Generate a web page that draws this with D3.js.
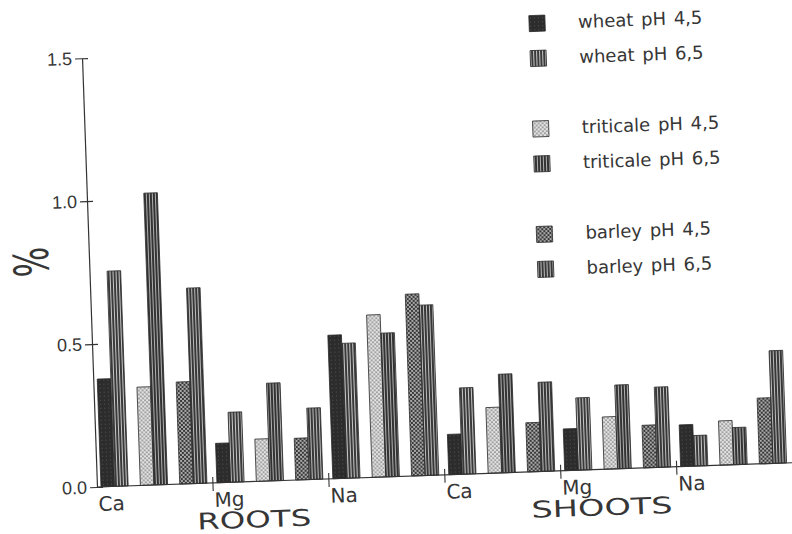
<!DOCTYPE html>
<html lang="en">
<head>
<meta charset="utf-8">
<title>ROOTS / SHOOTS</title>
<script src="https://d3js.org/d3.v7.min.js"></script>
<style>
  body { margin: 0; background: #fff; }
  text { font-family: "DejaVu Sans", sans-serif; fill: #363636; }
</style>
</head>
<body>
<svg id="chart"></svg>
<script>
// slots: ROOTS Ca, Mg, Na, then SHOOTS Ca, Mg, Na
const parts = ["ROOTS", "SHOOTS"];
const elements = ["Ca", "Mg", "Na"];
const crops = ["wheat", "triticale", "barley"];
const phs = ["4,5", "6,5"];
const yTicks = [0.0, 0.5, 1.0, 1.5];

const wheat45     = [0.377, 0.138, 0.502, 0.141, 0.146, 0.146];
const wheat65     = [0.753, 0.245, 0.472, 0.302, 0.253, 0.107];
const triticale45 = [0.344, 0.148, 0.568, 0.230, 0.183, 0.155];
const triticale65 = [1.021, 0.342, 0.503, 0.345, 0.293, 0.130];
const barley45    = [0.357, 0.146, 0.636, 0.172, 0.149, 0.230];
const barley65    = [0.684, 0.250, 0.596, 0.312, 0.281, 0.394];

const values = {
  wheat: [wheat45, wheat65],
  triticale: [triticale45, triticale65],
  barley: [barley45, barley65]
};

const slots = [];
parts.forEach(p => elements.forEach(e => slots.push(p + "-" + e)));

const bars = [];
slots.forEach((s, i) => {
  crops.forEach(c => {
    phs.forEach((ph, j) => {
      bars.push({ slot: s, crop: c, ph: ph, value: values[c][j][i] });
    });
  });
});

const W = 792, H = 534;
const svg = d3.select("#chart").attr("width", W).attr("height", H);

// fills that imitate the printed hatchings
const defs = svg.append("defs");
function pattern(id, w, h, bg, draw) {
  const p = defs.append("pattern").attr("id", id)
    .attr("patternUnits", "userSpaceOnUse").attr("width", w).attr("height", h);
  p.append("rect").attr("width", w).attr("height", h).attr("fill", bg);
  draw(p);
}
pattern("p-wheat-45", 4, 4, "#2c2c2c", p => {
  p.append("rect").attr("x", 2).attr("y", 1).attr("width", 1).attr("height", 1).attr("fill", "#555");
});
pattern("p-triticale-45", 4, 4, "#e2e2e2", p => {
  p.append("circle").attr("cx", 1).attr("cy", 1).attr("r", 0.85).attr("fill", "#6a6a6a");
  p.append("circle").attr("cx", 3).attr("cy", 3).attr("r", 0.85).attr("fill", "#6a6a6a");
});
pattern("p-barley-45", 4, 4, "#383838", p => {
  p.append("circle").attr("cx", 1).attr("cy", 1).attr("r", 0.9).attr("fill", "#e0e0e0");
  p.append("circle").attr("cx", 3).attr("cy", 3).attr("r", 0.9).attr("fill", "#e0e0e0");
});
pattern("p-wheat-65", 3, 5, "#c8c8c8", p => {
  p.append("rect").attr("width", 2).attr("height", 5).attr("fill", "#3a3a3a");
});
pattern("p-triticale-65", 3, 5, "#b0b0b0", p => {
  p.append("rect").attr("width", 2).attr("height", 5).attr("fill", "#333");
});
pattern("p-barley-65", 3, 5, "#bcbcbc", p => {
  p.append("rect").attr("width", 2).attr("height", 5).attr("fill", "#383838");
});
const fillOf = (crop, ph) => "url(#p-" + crop + "-" + (ph === "4,5" ? "45" : "65") + ")";

// the scanned figure is tilted a little
const rot = svg.append("g").attr("transform", "rotate(-2, 97, 487)");
const g = rot.append("g").attr("transform", "translate(97, 487)");

const x0 = d3.scaleBand().domain(slots).range([0, 696]).padding(0);
const x1 = d3.scaleBand().domain(crops).range([4, 110]).paddingInner(0.31);
const x2 = d3.scaleBand().domain(phs).range([0, x1.bandwidth()]);
const y = d3.scaleLinear().domain([0, 1.5]).range([0, -429]);

g.selectAll("rect.bar")
  .data(bars).enter()
  .append("rect")
  .attr("class", "bar")
  .attr("x", d => x0(d.slot) + x1(d.crop) + x2(d.ph))
  .attr("y", d => y(d.value))
  .attr("width", x2.bandwidth())
  .attr("height", d => y(0) - y(d.value))
  .attr("fill", d => fillOf(d.crop, d.ph))
  .attr("stroke", "#2a2a2a")
  .attr("stroke-width", 0.8);

// y axis
const yAxis = d3.axisLeft(y).tickValues(yTicks).tickFormat(d3.format(".1f"))
  .tickSizeInner(7).tickSizeOuter(0).tickPadding(3);
const ya = g.append("g").attr("id", "y-axis").call(yAxis);
ya.attr("font-family", null).attr("font-size", null);
ya.select(".domain").attr("stroke", "#333").attr("stroke-width", 1.2);
ya.selectAll(".tick line").attr("stroke", "#333").attr("stroke-width", 1.2);
ya.selectAll(".tick").append("line").attr("x2", 6).attr("stroke", "#333").attr("stroke-width", 1.2);
ya.selectAll(".tick text").style("font-family", "'Liberation Sans', sans-serif")
  .style("font-size", "18px").attr("fill", "#3a3a3a");

// x axis
g.append("line").attr("x1", 0).attr("x2", x0.range()[1])
  .attr("stroke", "#333").attr("stroke-width", 1.2);
g.selectAll("line.xtick")
  .data(slots.slice(1)).enter()
  .append("line").attr("class", "xtick")
  .attr("x1", d => x0(d)).attr("x2", d => x0(d))
  .attr("y1", -6).attr("y2", 8)
  .attr("stroke", "#333").attr("stroke-width", 1.1);
g.append("line").attr("x1", x0.range()[1]).attr("x2", x0.range()[1])
  .attr("y1", 0).attr("y2", 8).attr("stroke", "#333").attr("stroke-width", 1.1);
g.selectAll("text.xlab")
  .data(slots).enter()
  .append("text").attr("class", "xlab")
  .attr("x", d => x0(d) + 1).attr("y", 24)
  .style("font-size", "20px")
  .text(d => d.split("-")[1]);

const partWidth = { ROOTS: 114, SHOOTS: 141 };
g.selectAll("text.part")
  .data(parts).enter()
  .append("text").attr("class", "part")
  .attr("x", d => x0(d + "-Mg") + 40).attr("y", 46)
  .attr("text-anchor", "middle")
  .attr("textLength", d => partWidth[d]).attr("lengthAdjust", "spacingAndGlyphs")
  .style("font-size", "23px")
  .text(d => d);

g.append("text")
  .attr("transform", "translate(-58, -227) rotate(-90)")
  .attr("text-anchor", "middle").attr("dominant-baseline", "central")
  .attr("textLength", 30).attr("lengthAdjust", "spacingAndGlyphs")
  .style("font-size", "48px")
  .text("%");

// legend
const legendRows = [];
crops.forEach((c, ci) => phs.forEach((ph, pi) => legendRows.push({ crop: c, ph: ph, ci: ci, pi: pi })));
const legend = rot.append("g").attr("id", "legend");
const rowY = d => 39 + d.ci * 105.5 + d.pi * 35;
legend.selectAll("rect")
  .data(legendRows).enter()
  .append("rect")
  .attr("x", 545).attr("y", d => rowY(d) - 8)
  .attr("width", 16).attr("height", 16)
  .attr("fill", d => fillOf(d.crop, d.ph))
  .attr("stroke", "#2a2a2a").attr("stroke-width", 0.8);
legend.selectAll("text")
  .data(legendRows).enter()
  .append("text")
  .attr("x", 594).attr("y", d => rowY(d) + 6)
  .style("font-size", "18px").style("word-spacing", "2px")
  .text(d => d.crop + " pH " + d.ph);
</script>
</body>
</html>
